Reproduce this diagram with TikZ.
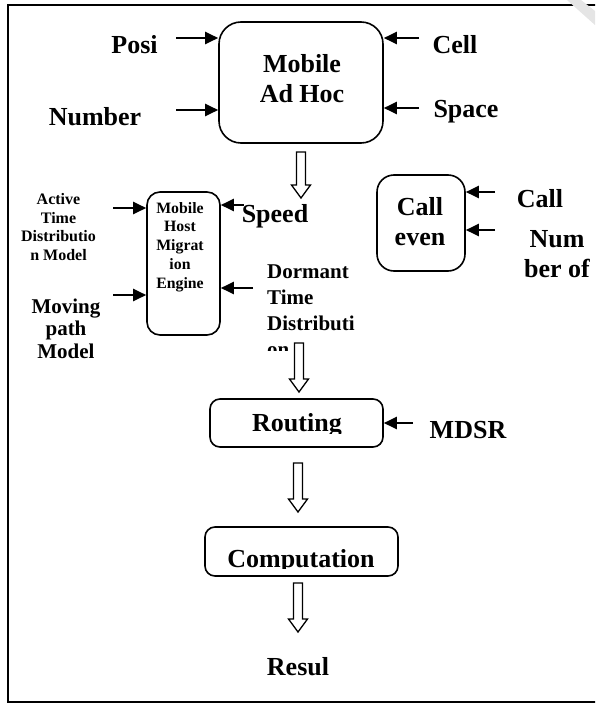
\documentclass[tikz,border=0pt]{standalone}
\usepackage{fontspec}
\setmainfont{Liberation Serif}
\usetikzlibrary{arrows.meta, calc}

% hollow block arrow from #1 (top of shaft) down to #2 (tip)
\newcommand{\fatarrow}[2]{%
  \draw[hollow] let \p1=(#1), \p2=(#2) in
    (\x1-4.5pt,\y1) -- (\x1-4.5pt,\y2+13pt) -- (\x1-9.5pt,\y2+13pt) -- (\x1,\y2)
    -- (\x1+9.5pt,\y2+13pt) -- (\x1+4.5pt,\y2+13pt) -- (\x1+4.5pt,\y1) -- cycle;}

\begin{document}
\begin{tikzpicture}[
    x=1pt, y=-1pt,
    box/.style={draw, line width=1.6pt, rounded corners=#1, inner sep=0pt},
    lbl/.style 2 args={font=\fontsize{#1}{#2}\selectfont\bfseries, inner sep=0pt, align=center, anchor=base},
    arr/.style={-{Triangle[length=13pt,width=12pt]}, line width=2.4pt},
    hollow/.style={draw, line width=1.3pt, fill=white, line join=miter}
]
\useasboundingbox (0,0) rectangle (595,704);
\clip (0,0) rectangle (595,704);

% --- Marco y marca de agua
\draw[line width=2pt] (8,5) rectangle (610,702);
\fill[gray!20] (567,0) -- (581,0) -- (595,11) -- (595,25) -- cycle;

% --- Cajas
\node[box=22pt, minimum width=164pt, minimum height=121pt] (adhoc) at (301,82.5) {};
\node[box=13pt, minimum width=73pt, minimum height=143pt] (mhm) at (183.5,263.5) {};
\node[box=17pt, minimum width=88pt, minimum height=96pt] (callev) at (421,223) {};
\node[box=10pt, minimum width=173pt, minimum height=48pt] (routing) at (296.5,423) {};
\node[box=10pt, minimum width=193pt, minimum height=49pt] (comp) at (301.5,551.5) {};

% --- Textos de las cajas (base = ultima linea)
\node[lbl={26}{30}] (adhoctxt) at (302,102) {Mobile\\Ad Hoc};
\node[lbl={15.8}{18.75}] (mhmtxt) at (180,288) {Mobile\\Host\\Migrat\\ion\\Engine};
\node[lbl={26}{30}] (callevtxt) at (420,245) {Call\\even};
\begin{scope}
  \clip (200,400) rectangle (390,433);
  \node[lbl={26}{30}] (routingtxt) at (297,431) {Routing};
\end{scope}
\begin{scope}
  \clip (200,528) rectangle (395,568.5);
  \node[lbl={26}{30}] (comptxt) at (301,567) {Computation};
\end{scope}

% --- Entradas
\node[lbl={26}{30}] (posi) at (134.5,53) {Posi};
\node[lbl={26}{30}] (number) at (95,125) {Number};
\node[lbl={26}{30}] (cell) at (455,53) {Cell};
\node[lbl={26}{30}] (space) at (466,117) {Space};
\node[lbl={16}{18.5}] (active) at (58.5,260) {Active\\Time\\Distributio\\n Model};
\node[lbl={21}{22.5}] (moving) at (66,358) {Moving\\path\\Model};
\node[lbl={26}{30}] (speed) at (275,222) {Speed};
\begin{scope}
  \clip (250,250) rectangle (400,350);
  \node[lbl={21}{25.7}, align=left, anchor=base west] (dormant) at (267,356) {Dormant\\Time\\Distributi\\on};
\end{scope}
\node[lbl={26}{30}] (callin) at (540,207) {Call};
\node[lbl={26}{30}] (numof) at (557,277) {Num\\ber of};
\node[lbl={26}{30}] (mdsr) at (468,438) {MDSR};
\node[lbl={26}{30}] (resul) at (298,675) {Resul};

% --- Flechas de entrada
\coordinate (posiT) at (176,38);
\coordinate (numberT) at (176,110);
\coordinate (cellT) at (419,38);
\coordinate (spaceT) at (419,108);
\coordinate (activeT) at (113,208);
\coordinate (movingT) at (113,295);
\coordinate (speedT) at (244,205);
\coordinate (dormantT) at (253,288);
\coordinate (callinT) at (495,192);
\coordinate (numofT) at (495,230);
\coordinate (mdsrT) at (413,423);

\draw[arr] (posiT) -- (posiT -| adhoc.west);
\draw[arr] (numberT) -- (numberT -| adhoc.west);
\draw[arr] (cellT) -- (cellT -| adhoc.east);
\draw[arr] (spaceT) -- (spaceT -| adhoc.east);
\draw[arr] (activeT) -- (activeT -| mhm.west);
\draw[arr] (movingT) -- (movingT -| mhm.west);
\draw[arr] (speedT) -- (speedT -| mhm.east);
\draw[arr] (dormantT) -- (dormantT -| mhm.east);
\draw[arr] (callinT) -- (callinT -| callev.east);
\draw[arr] (numofT) -- (numofT -| callev.east);
\draw[arr] (mdsrT) -- (mdsrT -| routing.east);

% --- Flechas huecas
\coordinate (h1a) at (301,152);
\coordinate (h1b) at (301,198);
\coordinate (h2a) at (299,343);
\coordinate (h2b) at (299,392);
\coordinate (h3a) at (298,463);
\coordinate (h3b) at (298,512);
\coordinate (h4a) at (298,583);
\coordinate (h4b) at (298,632);
\fatarrow{h1a}{h1b}
\fatarrow{h2a}{h2b}
\fatarrow{h3a}{h3b}
\fatarrow{h4a}{h4b}

\end{tikzpicture}
\end{document}
